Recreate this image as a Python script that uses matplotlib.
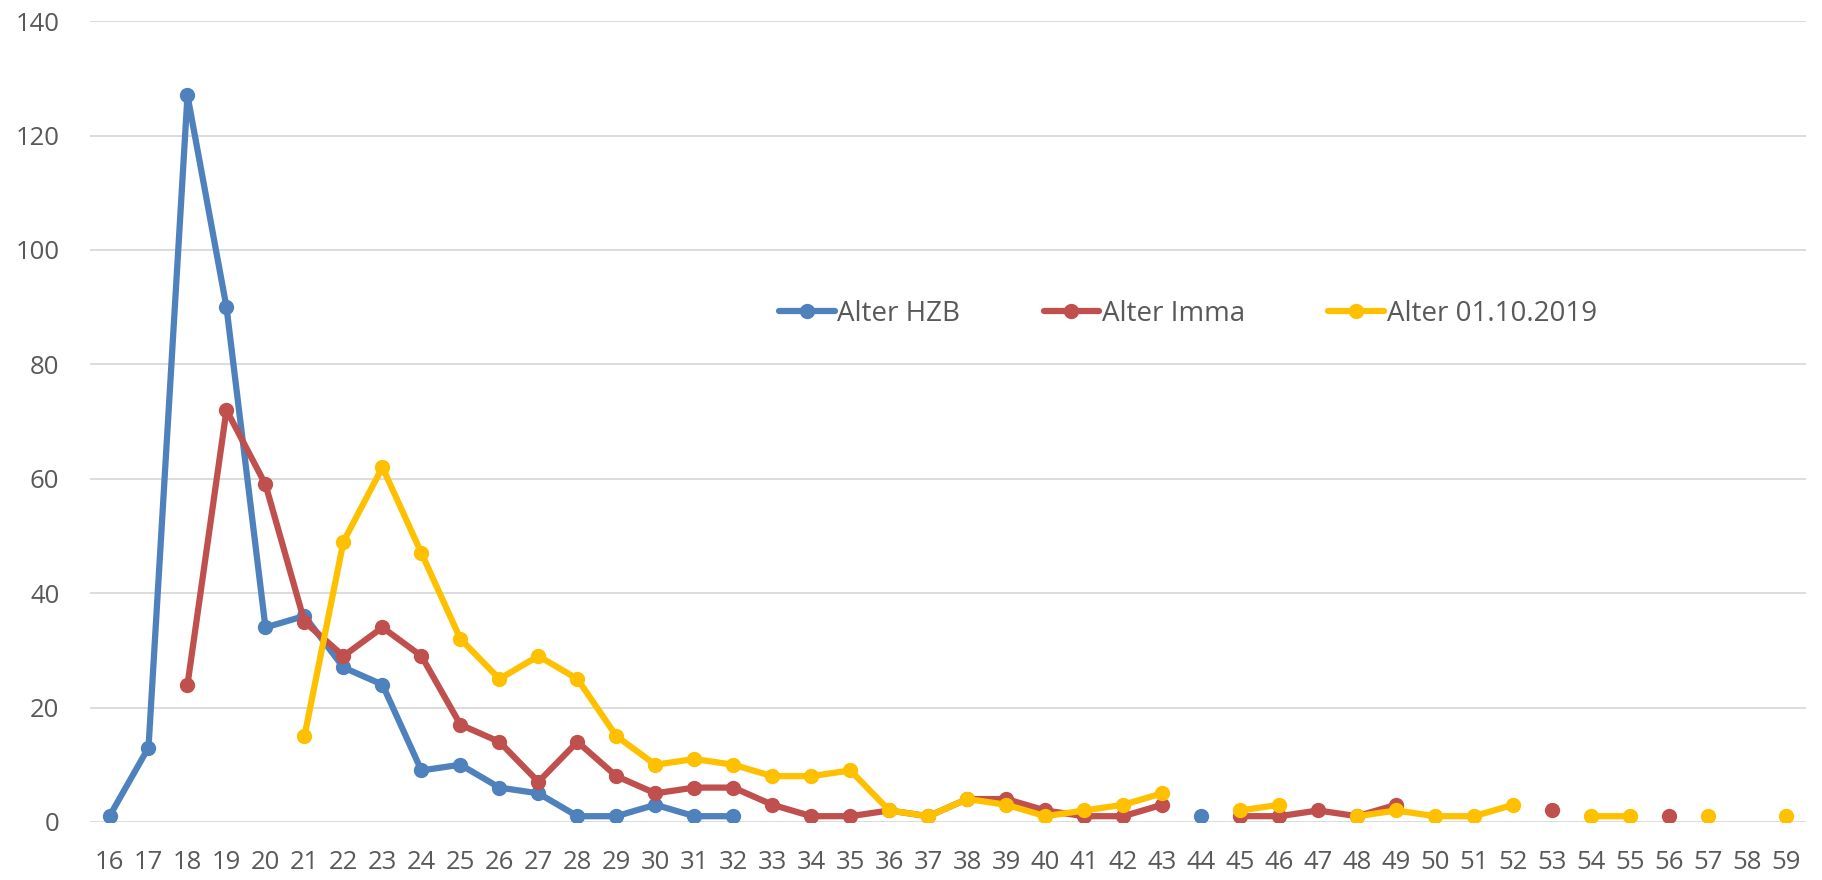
import numpy as np
import matplotlib.pyplot as plt

nan = np.nan
ages = list(range(16, 60))

hzb = [1, 13, 127, 90, 34, 36, 27, 24, 9, 10, 6, 5, 1, 1, 3, 1, 1,
       nan, nan, nan, nan, nan, nan, nan, nan, nan, nan, nan,
       1] + [nan] * 15

imma = [nan, nan, 24, 72, 59, 35, 29, 34, 29, 17, 14, 7, 14, 8, 5, 6, 6,
        3, 1, 1, 2, 1, 4, 4, 2, 1, 1, 3,
        nan, 1, 1, 2, 1, 3, nan, nan, nan, 2, nan, nan, 1, nan, nan, nan]

stichtag = [nan, nan, nan, nan, nan, 15, 49, 62, 47, 32, 25, 29, 25, 15, 10, 11, 10,
            8, 8, 9, 2, 1, 4, 3, 1, 2, 3, 5,
            nan, 2, 3, nan, 1, 2, 1, 1, 3, nan, 1, 1, nan, 1, nan, 1]

series = [('Alter HZB', hzb, '#4F81BD'),
          ('Alter Imma', imma, '#C0504D'),
          ('Alter 01.10.2019', stichtag, '#FFC000')]

plt.rcParams['font.family'] = ['Open Sans', 'DejaVu Sans']

fig = plt.figure(figsize=(18.22, 8.8), dpi=100)
ax = fig.add_axes([0.0494, 0.066, 0.9416, 0.91])

x = np.arange(len(ages))
for name, vals, col in series:
    ax.plot(x, vals, color=col, lw=4.5, marker='o', markersize=10,
            label=name, solid_capstyle='round')

ax.set_xlim(-0.5, len(ages) - 0.5)
ax.set_ylim(0, 140)
ax.set_yticks(range(0, 141, 20))
ax.set_xticks(x)
ax.set_xticklabels([str(a) for a in ages])
ax.tick_params(length=0, labelsize=18.5, colors='#595959', pad=20)
ax.tick_params(axis='y', pad=22)
ax.grid(axis='y', color='#D9D9D9', lw=1.3)
ax.set_axisbelow(True)
for s in ax.spines.values():
    s.set_visible(False)

ax.legend(loc='center', bbox_to_anchor=(0.64, 0.634), ncol=3, frameon=False,
          fontsize=20, labelcolor='#595959', handlelength=2.0,
          handletextpad=0.1, columnspacing=3.0)

fig.savefig('out.png', dpi=100)
